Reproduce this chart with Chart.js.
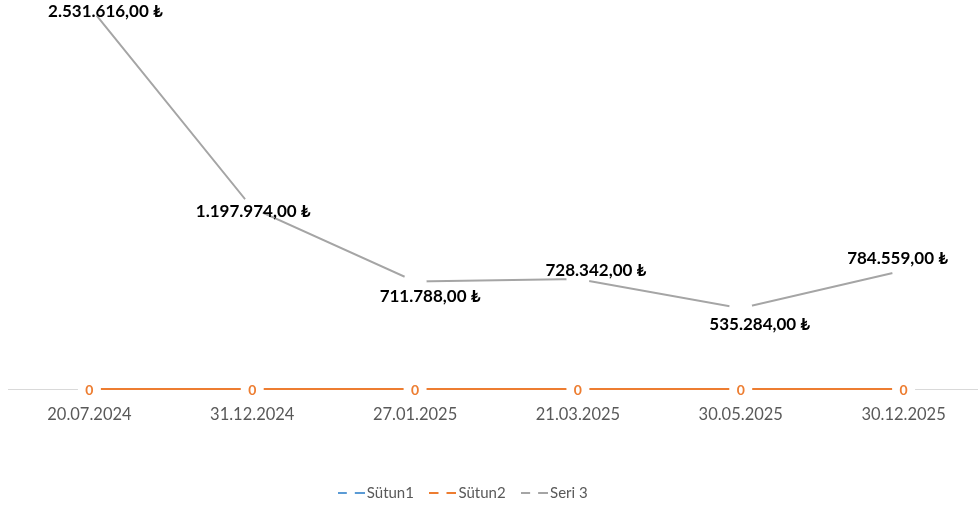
<!DOCTYPE html>
<html>
<head>
<meta charset="utf-8">
<script src="https://cdn.jsdelivr.net/npm/chart.js@4.4.1/dist/chart.umd.min.js"></script>
<style>
  html, body { margin: 0; padding: 0; background: #fff; overflow: hidden; }
  /* plot area runs a few px past the right edge in the original */
  #wrap { width: 985px; height: 514px; }
</style>
</head>
<body>
<div id="wrap"><canvas id="chart"></canvas></div>
<script>
// chart data
const dates = ['20.07.2024', '31.12.2024', '27.01.2025', '21.03.2025', '30.05.2025', '30.12.2025'];
const sutun1 = [0, 0, 0, 0, 0, 0];
const sutun2 = [0, 0, 0, 0, 0, 0];
const seri3 = [2531616, 1197974, 711788, 728342, 535284, 784559];

// where each Seri 3 label sits relative to its point (px)
const seri3LabelShift = [[16, 5], [1, 3], [15, 15], [18, -8], [19, 16], [-6, -12]];

const FONT = "Lato, 'DejaVu Sans', sans-serif";

// 2531616 -> "2.531.616,00 ₺"
function formatTL(v) {
  const whole = Math.round(v).toString().replace(/\B(?=(\d{3})+(?!\d))/g, '.');
  return whole + ',00 ₺';
}

// legend marker: short dashed line
function dashIcon(color) {
  const c = document.createElement('canvas');
  c.width = 27;
  c.height = 4;
  const g = c.getContext('2d');
  g.strokeStyle = color;
  g.lineWidth = 2;
  g.beginPath();
  g.moveTo(0, 2); g.lineTo(9, 2);
  g.moveTo(17, 2); g.lineTo(27, 2);
  g.stroke();
  return c;
}

// draws the data labels on top of everything
const valueLabels = {
  id: 'valueLabels',
  afterDatasetsDraw(chart) {
    const ctx = chart.ctx;
    ctx.save();
    ctx.textAlign = 'center';
    ctx.textBaseline = 'middle';

    const zeroMeta = chart.getDatasetMeta(1);
    ctx.font = 'bold 14px ' + FONT;
    ctx.fillStyle = '#ed7d31';
    zeroMeta.data.forEach((pt, i) => {
      ctx.fillText(String(sutun2[i]), pt.x, pt.y + 1);
    });

    const meta = chart.getDatasetMeta(2);
    ctx.font = 'bold 17px ' + FONT;
    ctx.fillStyle = '#000000';
    meta.data.forEach((pt, i) => {
      const s = seri3LabelShift[i];
      ctx.fillText(formatTL(seri3[i]), pt.x + s[0], pt.y + s[1]);
    });
    ctx.restore();
  }
};

// legend sits a bit left of centre in the original
const legendShift = {
  id: 'legendShift',
  afterLayout(chart) {
    const lg = chart.legend;
    if (!lg) return;
    lg.left -= 31;
    lg.right -= 31;
  }
};

const lineStyle = (color, width, order) => ({
  borderColor: color,
  backgroundColor: color,
  borderWidth: width,
  pointStyle: 'circle',
  pointRadius: 11.5,
  pointBorderWidth: 0,
  pointBackgroundColor: '#ffffff',
  tension: 0,
  clip: false,
  order: order
});

const ctx = document.getElementById('chart').getContext('2d');
new Chart(ctx, {
  type: 'line',
  data: {
    labels: dates,
    datasets: [
      // drawn first and thinner so the orange line fully covers it
      Object.assign({ label: 'Sütun1', data: sutun1 }, lineStyle('#5b9bd5', 1, 3)),
      Object.assign({ label: 'Sütun2', data: sutun2 }, lineStyle('#ed7d31', 2, 2)),
      Object.assign({ label: 'Seri 3', data: seri3 }, lineStyle('#a5a5a5', 2, 1))
    ]
  },
  options: {
    responsive: true,
    maintainAspectRatio: false,
    animation: false,
    events: [],
    layout: { autoPadding: false, padding: { left: 8, right: 0, top: 0, bottom: 3.5 } },
    scales: {
      x: {
        offset: true,
        grid: { display: true, drawOnChartArea: false, drawTicks: false },
        border: { display: true, color: '#d9d9d9', width: 1 },
        ticks: { color: '#595959', font: { family: FONT, size: 16.5 }, padding: 16, maxRotation: 0 },
        afterFit(scale) { scale.height = 75.5; }
      },
      y: {
        display: false,
        min: 0,
        max: 2575000
      }
    },
    plugins: {
      legend: {
        position: 'bottom',
        labels: {
          usePointStyle: true,
          pointStyleWidth: 16,
          padding: 21,
          color: '#595959',
          font: { family: FONT, size: 15 },
          sort: (a, b) => a.datasetIndex - b.datasetIndex,
          generateLabels(chart) {
            const items = Chart.defaults.plugins.legend.labels.generateLabels(chart);
            items.forEach(it => {
              it.pointStyle = dashIcon(chart.data.datasets[it.datasetIndex].borderColor);
            });
            return items;
          }
        }
      },
      tooltip: { enabled: false }
    }
  },
  plugins: [valueLabels, legendShift]
});
</script>
</body>
</html>
